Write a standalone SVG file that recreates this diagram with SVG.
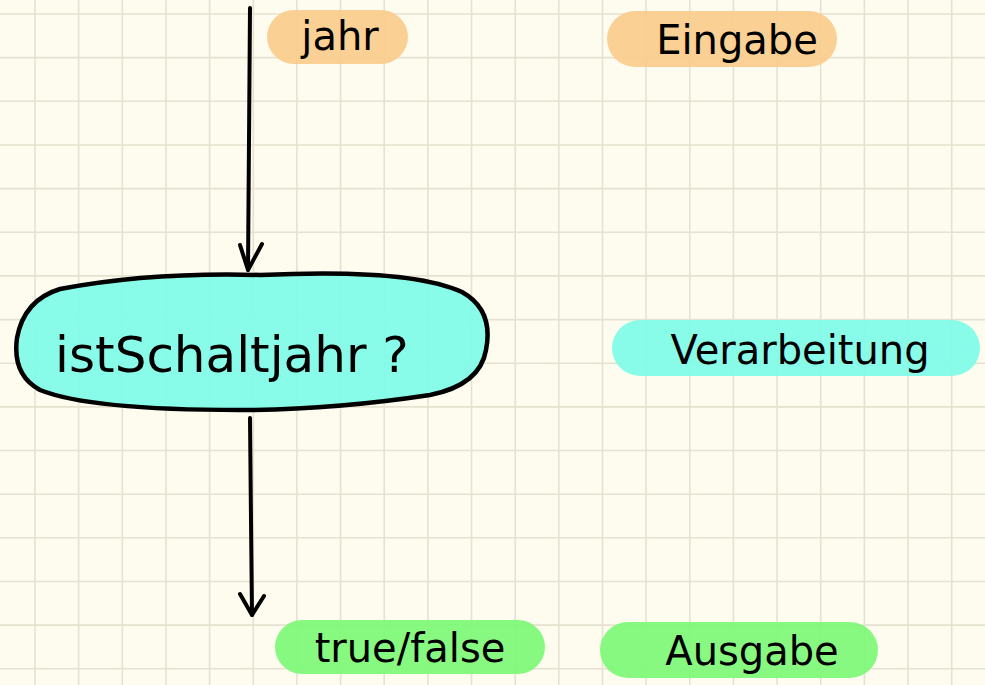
<svg xmlns="http://www.w3.org/2000/svg" width="985" height="685" viewBox="0 0 985 685">
<defs>
<style>
.grid line{stroke:#e6e2d1;stroke-width:1.6}
.ink{fill:none;stroke:#000;stroke-width:4;stroke-linecap:round;stroke-linejoin:round}
.lbl{font-family:"DejaVu Sans","Liberation Sans",sans-serif;fill:#000;text-anchor:middle}
.orange{fill:#fbcc8c;fill-opacity:0.92}
.cyan{fill:#7ffbe8;fill-opacity:0.92}
.green{fill:#7ef976;fill-opacity:0.92}
</style>
</defs>
<rect width="985" height="685" fill="#fefcef"/>
<g class="grid">
<line x1="35" y1="0" x2="35" y2="685"/><line x1="78.6" y1="0" x2="78.6" y2="685"/><line x1="122.3" y1="0" x2="122.3" y2="685"/><line x1="166" y1="0" x2="166" y2="685"/><line x1="209.6" y1="0" x2="209.6" y2="685"/><line x1="253.3" y1="0" x2="253.3" y2="685"/><line x1="296.9" y1="0" x2="296.9" y2="685"/><line x1="340.6" y1="0" x2="340.6" y2="685"/><line x1="384.2" y1="0" x2="384.2" y2="685"/><line x1="427.9" y1="0" x2="427.9" y2="685"/><line x1="471.5" y1="0" x2="471.5" y2="685"/><line x1="515.2" y1="0" x2="515.2" y2="685"/><line x1="558.8" y1="0" x2="558.8" y2="685"/><line x1="602.5" y1="0" x2="602.5" y2="685"/><line x1="646.1" y1="0" x2="646.1" y2="685"/><line x1="689.8" y1="0" x2="689.8" y2="685"/><line x1="733.4" y1="0" x2="733.4" y2="685"/><line x1="777.1" y1="0" x2="777.1" y2="685"/><line x1="820.7" y1="0" x2="820.7" y2="685"/><line x1="864.4" y1="0" x2="864.4" y2="685"/><line x1="908" y1="0" x2="908" y2="685"/><line x1="951.7" y1="0" x2="951.7" y2="685"/>
<line x1="0" y1="14" x2="985" y2="14"/><line x1="0" y1="57.6" x2="985" y2="57.6"/><line x1="0" y1="101.3" x2="985" y2="101.3"/><line x1="0" y1="145" x2="985" y2="145"/><line x1="0" y1="188.6" x2="985" y2="188.6"/><line x1="0" y1="232.3" x2="985" y2="232.3"/><line x1="0" y1="275.9" x2="985" y2="275.9"/><line x1="0" y1="319.6" x2="985" y2="319.6"/><line x1="0" y1="363.2" x2="985" y2="363.2"/><line x1="0" y1="406.9" x2="985" y2="406.9"/><line x1="0" y1="450.5" x2="985" y2="450.5"/><line x1="0" y1="494.2" x2="985" y2="494.2"/><line x1="0" y1="537.8" x2="985" y2="537.8"/><line x1="0" y1="581.5" x2="985" y2="581.5"/><line x1="0" y1="625.1" x2="985" y2="625.1"/><line x1="0" y1="668.8" x2="985" y2="668.8"/>
</g>
<g id="connectors">
<path class="ink" d="M250 8 L249 140 L248 270"/>
<path class="ink" d="M240 245 L248 270 L262 244"/>
<path class="ink" d="M250 418 L251 520 L252 615"/>
<path class="ink" d="M240 594 L252 615 L264 596"/>
</g>
<g id="node-jahr">
<rect class="orange" x="267" y="10" width="141" height="54" rx="27"/>
<text class="lbl" x="340" y="50" font-size="40">jahr</text>
</g>
<g id="node-eingabe">
<rect class="orange" x="607" y="11" width="230" height="56" rx="28"/>
<text class="lbl" x="737" y="54" font-size="40">Eingabe</text>
</g>
<g id="node-istschaltjahr">
<path class="cyan" d="M60 289 Q150 272 260 275 Q410 268 462 292 Q494 310 486 350 Q480 385 430 395 Q330 410 240 410 Q90 410 40 390 Q12 375 17 338 Q24 300 60 289 Z" stroke="#000" stroke-width="4.5" stroke-linejoin="round"/>
<text class="lbl" x="232" y="372" font-size="50">istSchaltjahr ?</text>
</g>
<g id="node-verarbeitung">
<rect class="cyan" x="612" y="320" width="368" height="56" rx="28"/>
<text class="lbl" x="800" y="364" font-size="40">Verarbeitung</text>
</g>
<g id="node-truefalse">
<rect class="green" x="275" y="620" width="270" height="54" rx="27"/>
<text class="lbl" x="410" y="662" font-size="40">true/false</text>
</g>
<g id="node-ausgabe">
<rect class="green" x="600" y="622" width="278" height="56" rx="28"/>
<text class="lbl" x="752" y="665" font-size="40">Ausgabe</text>
</g>
</svg>
